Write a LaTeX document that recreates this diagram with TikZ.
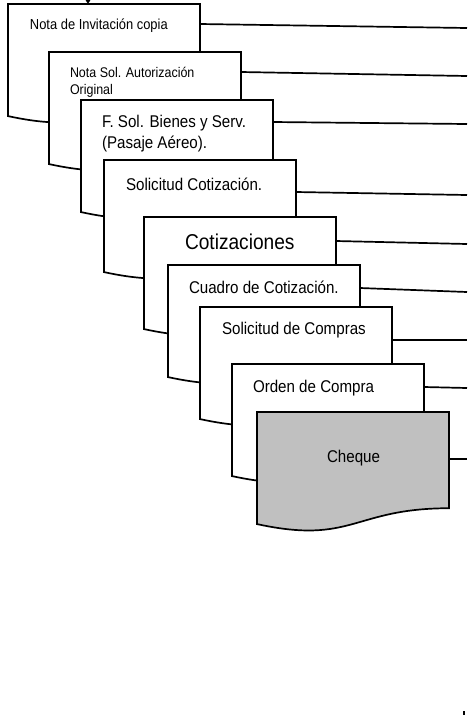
\documentclass[tikz,border=0pt]{standalone}
\usepackage{fontspec}
\setmainfont{Liberation Sans}[FakeStretch=0.89]
\usetikzlibrary{calc,arrows.meta}

\definecolor{chequegray}{RGB}{192,192,192}

\tikzset{
  docbox/.style={rectangle, anchor=north west, minimum width=192pt,
    minimum height=120pt, inner sep=0pt, outer sep=0pt},
  docline/.style={draw=black, line width=1.7pt, line join=miter},
  link/.style={draw=black, line width=1.7pt},
  label/.style={anchor=base west, inner sep=0pt, outer sep=0pt, align=left},
}

% document outline (flat top, wavy bottom) drawn around a docbox node
\newcommand\DocOutline[2][white]{%
  \path[docline, fill=#1] (#2.north west) -- (#2.north east)
    -- ($(#2.north east)!0.802!(#2.south east)$)
    .. controls ($(#2.north)!0.802!(#2.south)$) and ($(#2.north)!1.1075!(#2.south)$)
    .. ($(#2.north west)!0.934!(#2.south west)$) -- cycle;}

\begin{document}
\begin{tikzpicture}[x=1pt, y=-1pt]
\useasboundingbox (0,0) rectangle (467,721);

% right-hand ends of the links
\coordinate (e1) at (467,28);
\coordinate (e2) at (467,76);
\coordinate (e3) at (467,124);
\coordinate (e4) at (467,195);
\coordinate (e5) at (467,244);
\coordinate (e6) at (467,292);
\coordinate (e7) at (467,340);
\coordinate (e8) at (467,388);
\coordinate (e9) at (467,459);
\coordinate (top) at (88,-12);

% 1
\node[docbox] (b1) at (8,4) {};
\DocOutline{b1}
\node[label, font=\fontsize{14.5}{17}\selectfont] (t1) at (30,29) {Nota de Invitación copia};
\draw[link] ($(b1.north east)+(0,20)$) -- (e1);
\draw[link, -{Triangle[width=7pt,length=6pt]}] (top) -- (b1.north -| top);

% 2 (two lines: anchored on the baseline of the last line)
\node[docbox] (b2) at (49,52) {};
\DocOutline{b2}
\node[label, font=\fontsize{14}{17}\selectfont] (t2) at (70,94) {Nota Sol. Autorización\\Original};
\draw[link] ($(b2.north east)+(0,20)$) -- (e2);

% 3
\node[docbox] (b3) at (81,100) {};
\DocOutline{b3}
\node[label, font=\fontsize{17}{21}\selectfont] (t3) at (102,148) {F. Sol. Bienes y Serv.\\(Pasaje Aéreo).};
\draw[link] ($(b3.north east)+(0,22)$) -- (e3);

% 4
\node[docbox] (b4) at (104,160) {};
\DocOutline{b4}
\node[label, font=\fontsize{17}{21}\selectfont] (t4) at (126,190) {Solicitud Cotización.};
\draw[link] ($(b4.north east)+(0,32)$) -- (e4);

% 5
\node[docbox] (b5) at (144,217) {};
\DocOutline{b5}
\node[label, font=\fontsize{21.5}{25}\selectfont] (t5) at (185,249) {Cotizaciones};
\draw[link] ($(b5.north east)+(0,24)$) -- (e5);

% 6
\node[docbox] (b6) at (168,265) {};
\DocOutline{b6}
\node[label, font=\fontsize{17}{21}\selectfont] (t6) at (189,293) {Cuadro de Cotización.};
\draw[link] ($(b6.north east)+(0,23)$) -- (e6);

% 7
\node[docbox] (b7) at (200,307) {};
\DocOutline{b7}
\node[label, font=\fontsize{17}{21}\selectfont] (t7) at (222,334) {Solicitud de Compras};
\draw[link] ($(b7.north east)+(0,33)$) -- (e7);

% 8
\node[docbox] (b8) at (232,364) {};
\DocOutline{b8}
\node[label, font=\fontsize{17}{21}\selectfont] (t8) at (253,392) {Orden de Compra};
\draw[link] ($(b8.north east)+(0,23)$) -- (e8);

% 9
\node[docbox] (b9) at (257,412) {};
\DocOutline[chequegray]{b9}
\node[label, font=\fontsize{17}{21}\selectfont] (t9) at (327,462) {Cheque};
\draw[link] ($(b9.north east)+(0,47)$) -- (e9);

% stray tick at the lower right
\fill (462.5,711) rectangle (465,715);
\end{tikzpicture}
\end{document}
